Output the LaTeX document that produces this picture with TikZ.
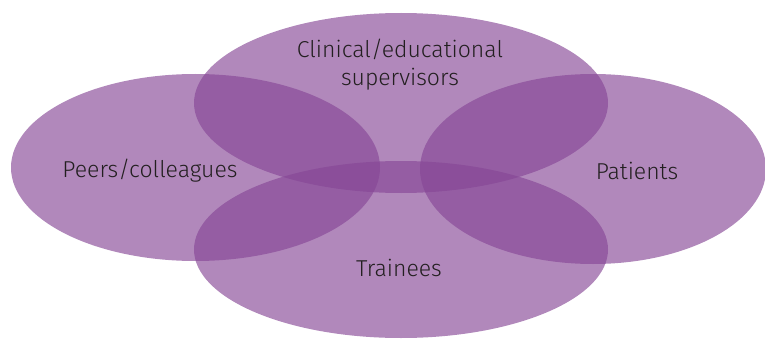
\documentclass[tikz,border=0pt]{standalone}
\usepackage{fontspec}
\setmainfont{Fira Sans}[UprightFont={* Light}]
\usepackage{tikz}

\definecolor{blobpurple}{RGB}{133,69,149}
\definecolor{labelgray}{RGB}{35,31,32}

\tikzset{
	blob/.style={fill=blobpurple, fill opacity=0.64},
	lbl/.style={text=labelgray, font=\fontsize{23}{28}\selectfont, align=center}
}

\begin{document}
\begin{tikzpicture}[x=1pt,y=1pt]
				\useasboundingbox (0,0) rectangle (765,338);
				
				\fill[blob] (401,235) ellipse [x radius=207, y radius=90];
				\fill[blob] (195.5,170.5) ellipse [x radius=184.5, y radius=93.5];
				\fill[blob] (593,169) ellipse [x radius=173, y radius=95];
				\fill[blob] (401,88.5) ellipse [x radius=207, y radius=88.5];
				
				\node[lbl] (supervisors) at (400,273) {Clinical/educational\\supervisors};
				\node[lbl] (peers) at (150,167) {Peers/colleagues};
				\node[lbl] (patients) at (637,167) {Patients};
				\node[lbl] (trainees) at (399,70) {Trainees};
			\end{tikzpicture}
\end{document}
